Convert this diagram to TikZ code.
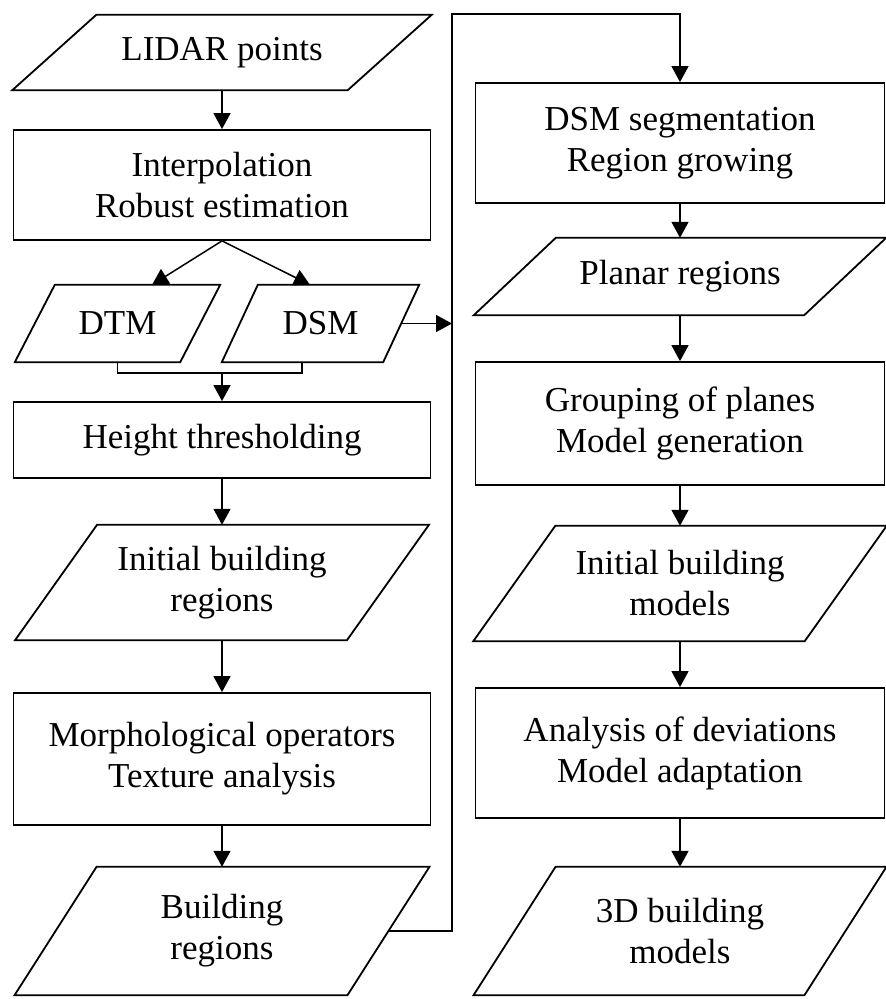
\documentclass[tikz,border=0pt]{standalone}
\usepackage{fontspec}
\setmainfont{Liberation Serif}
\usetikzlibrary{arrows.meta,calc}
\tikzset{
  outline/.style={line width=1.8pt, line join=miter},
  stepbox/.style={draw, line width=1.8pt, align=center, inner sep=0pt,
                  font=\fontsize{35}{41}\selectfont},
  databox/.style={align=center, inner sep=0pt, font=\fontsize{35}{41}\selectfont},
  arr/.style={line width=1.5pt, -{Triangle[length=16pt,width=17pt]}},
  conn/.style={line width=1.5pt},
}
\newcommand\pgm[2]{%
  \draw[outline] ([xshift=#2]#1.north west) -- ([xshift=#2]#1.north east)
     -- ([xshift=-#2]#1.south east) -- ([xshift=-#2]#1.south west) -- cycle;}
\begin{document}
\begin{tikzpicture}[x=1pt,y=-1pt]
\useasboundingbox (0,0) rectangle (886,999);
% left column
\node[databox, minimum width=335pt, minimum height=75pt] (lidar) at (222,52.5) {LIDAR points};
\pgm{lidar}{42pt}
\node[stepbox, minimum width=417pt, minimum height=110pt] (interp) at (222,185) {Interpolation\\Robust estimation};
\node[databox, minimum width=165pt, minimum height=77pt] (dtm) at (117.5,323.5) {DTM};
\pgm{dtm}{20pt}
\node[databox, minimum width=161pt, minimum height=77pt] (dsm) at (320.5,323.5) {DSM};
\pgm{dsm}{18pt}
\node[stepbox, minimum width=417pt, minimum height=76pt] (height) at (222,440) {Height thresholding};
\node[databox, minimum width=331.5pt, minimum height=115pt] (ibr) at (222,582.5) {Initial building\\regions};
\pgm{ibr}{41pt}
\node[stepbox, minimum width=417pt, minimum height=132pt] (morph) at (222,759) {Morphological operators\\Texture analysis};
\node[databox, minimum width=332.5pt, minimum height=128pt] (br) at (222,931) {Building\\regions};
\pgm{br}{41pt}
% right column
\node[stepbox, minimum width=409pt, minimum height=120pt] (seg) at (680,143) {DSM segmentation\\Region growing};
\node[databox, minimum width=330pt, minimum height=77pt] (planar) at (680,276.5) {Planar regions};
\pgm{planar}{41pt}
\node[stepbox, minimum width=409pt, minimum height=123pt] (group) at (680,423.5) {Grouping of planes\\Model generation};
\node[databox, minimum width=331pt, minimum height=115pt] (ibm) at (680,583.5) {Initial building\\models};
\pgm{ibm}{41pt}
\node[stepbox, minimum width=409pt, minimum height=130pt] (anal) at (680,753) {Analysis of deviations\\Model adaptation};
\node[databox, minimum width=330.5pt, minimum height=128pt] (m3d) at (680,931) {3D building\\models};
\pgm{m3d}{41pt}
% connectors
\coordinate (bus) at (452,14);
\coordinate (join) at (222,373);
\draw[arr] (lidar.south) -- (interp.north);
\draw[arr] (interp.south) -- ([xshift=34.5pt]dtm.north);
\draw[arr] (interp.south) -- ([xshift=-10.5pt]dsm.north);
\draw[conn] (dtm.south) -- (dtm.south |- join) -- ([xshift=-18.5pt]dsm.south |- join) -- ([xshift=-18.5pt]dsm.south);
\draw[arr] (join) -- (height.north);
\draw[arr] (height.south) -- (ibr.north);
\draw[arr] (ibr.south) -- (morph.north);
\draw[arr] (morph.south) -- (br.north);
\draw[arr] (dsm.east) -- (dsm.east -| bus);
\draw[arr] (br.east) -| (bus) -| (seg.north);
\draw[arr] (seg.south) -- (planar.north);
\draw[arr] (planar.south) -- (group.north);
\draw[arr] (group.south) -- (ibm.north);
\draw[arr] (ibm.south) -- (anal.north);
\draw[arr] (anal.south) -- (m3d.north);
\end{tikzpicture}
\end{document}
